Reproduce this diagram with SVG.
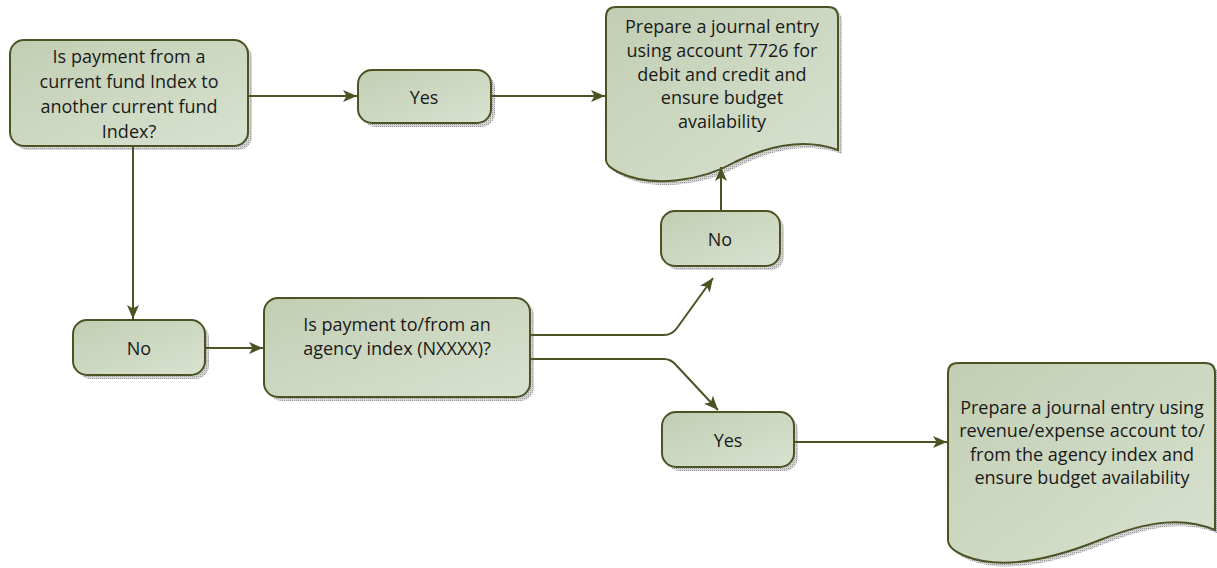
<svg xmlns="http://www.w3.org/2000/svg" width="1217" height="568" viewBox="0 0 1217 568">
<defs>
<linearGradient id="fillG" x1="0" y1="0" x2="1" y2="1">
<stop offset="0" stop-color="#c2ceb3"/>
<stop offset="1" stop-color="#d8e2d0"/>
</linearGradient>
<pattern id="dots" width="2" height="2" patternUnits="userSpaceOnUse">
<rect width="2" height="2" fill="#d6d6d6"/>
<rect width="1" height="1" fill="#9a9a9a"/>
</pattern>
<marker id="arr" viewBox="0 0 14 12" refX="14" refY="6" markerWidth="14" markerHeight="12" markerUnits="userSpaceOnUse" orient="auto">
<path d="M0,0 L14,6 L0,12 L3.5,6 Z" fill="#4b5324"/>
</marker>
<style>
.shape{fill:url(#fillG);stroke:#4b5324;stroke-width:2}
.shadow{fill:url(#dots)}
.conn{fill:none;stroke:#4b5324;stroke-width:2}
text{font-family:"Open Sans","Liberation Sans",sans-serif;font-size:18px;fill:#1a1a1a;text-anchor:middle;dominant-baseline:central}
</style>
</defs>

<g id="q1">
<rect class="shadow" x="14" y="44" width="238" height="106" rx="14"/>
<rect class="shape" x="10" y="40" width="238" height="106" rx="14"/>
<text x="129" y="56">Is payment from a</text>
<text x="129" y="81">current fund Index to</text>
<text x="129" y="106">another current fund</text>
<text x="129" y="131">Index?</text>
</g>

<g id="yes1">
<rect class="shadow" x="362" y="74" width="133" height="53" rx="14"/>
<rect class="shape" x="358" y="70" width="133" height="53" rx="14"/>
<text x="424" y="97">Yes</text>
</g>

<g id="doc1">
<path class="shadow" transform="translate(4,4)" d="M616,7 L828,7 Q838,7 838,17 L838,150 C805,138 770,145 735,162 C700,182 650,188 618,172 Q606,166 606,160 L606,17 Q606,7 616,7 Z"/>
<path class="shape" d="M616,7 L828,7 Q838,7 838,17 L838,150 C805,138 770,145 735,162 C700,182 650,188 618,172 Q606,166 606,160 L606,17 Q606,7 616,7 Z"/>
<text x="722" y="26">Prepare a journal entry</text>
<text x="722" y="50">using account 7726 for</text>
<text x="722" y="74">debit and credit and</text>
<text x="722" y="97">ensure budget</text>
<text x="722" y="121">availability</text>
</g>

<g id="no2">
<rect class="shadow" x="665" y="215" width="119" height="55" rx="14"/>
<rect class="shape" x="661" y="211" width="119" height="55" rx="14"/>
<text x="720" y="239">No</text>
</g>

<g id="no1">
<rect class="shadow" x="77" y="324" width="132" height="55" rx="14"/>
<rect class="shape" x="73" y="320" width="132" height="55" rx="14"/>
<text x="139" y="348">No</text>
</g>

<g id="q2">
<rect class="shadow" x="268" y="302" width="266" height="99" rx="14"/>
<rect class="shape" x="264" y="298" width="266" height="99" rx="14"/>
<text x="397" y="324">Is payment to/from an</text>
<text x="397" y="348">agency index (NXXXX)?</text>
</g>

<g id="yes2">
<rect class="shadow" x="666" y="416" width="132" height="55" rx="14"/>
<rect class="shape" x="662" y="412" width="132" height="55" rx="14"/>
<text x="728" y="440">Yes</text>
</g>

<g id="doc2">
<path class="shadow" transform="translate(4,4)" d="M958,363 L1205,363 Q1215,363 1215,373 L1215,530 C1185,517 1150,520 1100,540 C1050,560 1000,570 965,556 Q948,549 948,540 L948,373 Q948,363 958,363 Z"/>
<path class="shape" d="M958,363 L1205,363 Q1215,363 1215,373 L1215,530 C1185,517 1150,520 1100,540 C1050,560 1000,570 965,556 Q948,549 948,540 L948,373 Q948,363 958,363 Z"/>
<text x="1082" y="407">Prepare a journal entry using</text>
<text x="1082" y="430">revenue/expense account to/</text>
<text x="1082" y="454">from the agency index and</text>
<text x="1082" y="477">ensure budget availability</text>
</g>

<g id="connectors">
<line class="conn" x1="248" y1="96" x2="357" y2="96" marker-end="url(#arr)"/>
<line class="conn" x1="491" y1="96" x2="605" y2="96" marker-end="url(#arr)"/>
<line class="conn" x1="133" y1="147" x2="133" y2="319" marker-end="url(#arr)"/>
<line class="conn" x1="206" y1="348" x2="263" y2="348" marker-end="url(#arr)"/>
<path class="conn" d="M531,335 L664,335 Q672,335 677,328 L713,278" marker-end="url(#arr)"/>
<path class="conn" d="M531,359 L664,359 Q671,359 676,365 L718,410" marker-end="url(#arr)"/>
<line class="conn" x1="721" y1="210" x2="721" y2="167" marker-end="url(#arr)"/>
<line class="conn" x1="795" y1="442" x2="947" y2="442" marker-end="url(#arr)"/>
</g>
</svg>
